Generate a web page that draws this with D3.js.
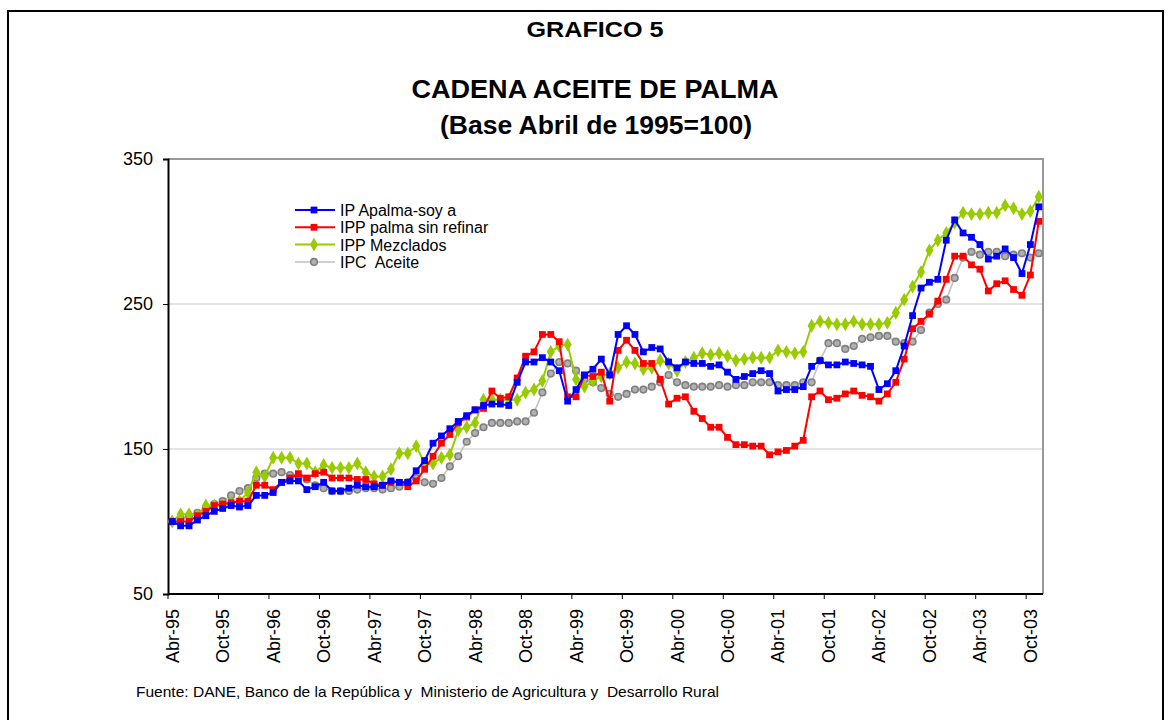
<!DOCTYPE html>
<html>
<head>
<meta charset="utf-8">
<script src="https://cdn.jsdelivr.net/npm/d3@7"></script>
<style>
  body { margin: 0; background: #fff; }
  svg text { font-family: "Liberation Sans", Arial, sans-serif; }
</style>
</head>
<body>
<script>
// meses: Abr-95 .. Nov-03
var mesesNombre = ["Ene", "Feb", "Mar", "Abr", "May", "Jun", "Jul", "Ago", "Sep", "Oct", "Nov", "Dic"];
var meses = [];
for (var k = 0; k < 104; k++) {
  var m = (3 + k) % 12, a = 95 + Math.floor((3 + k) / 12);
  meses.push(mesesNombre[m] + "-" + String(a % 100).padStart(2, "0"));
}

// series (indice Abr-95 = 100)
var ipApalmaSoya = [100, 97, 97, 101, 104, 107, 109, 111, 110, 111, 118, 118, 120, 127, 128, 128, 122, 124, 127, 121,
  121, 123, 125, 124, 124, 125, 128, 127, 127, 135, 142, 154, 159, 164, 169, 173, 177, 180, 181, 181,
  180, 196, 210, 210, 213, 210, 204, 183, 191, 201, 205, 212, 201, 229, 235, 229, 217, 220, 219, 210,
  206, 210, 209, 209, 207, 208, 203, 198, 200, 202, 204, 202, 190, 191, 191, 193, 207, 211, 208, 208,
  210, 209, 208, 207, 191, 195, 204, 221, 242, 261, 265, 267, 294, 308, 299, 296, 291, 281, 283, 288,
  282, 271, 291, 317];
var ippPalmaSinRefinar = [100, 100, 100, 104, 107, 111, 112, 113, 114, 114, 125, 125, 122, 127, 130, 133, 130, 133, 134, 130,
  130, 130, 129, 129, 126, 125, 127, 127, 124, 128, 136, 145, 154, 160, 168, 172, 177, 178, 190, 185,
  186, 199, 214, 217, 229, 229, 224, 186, 186, 201, 200, 203, 183, 218, 225, 218, 209, 209, 198, 181,
  185, 186, 176, 171, 165, 165, 158, 153, 153, 152, 152, 146, 148, 149, 152, 156, 186, 190, 184, 185,
  188, 190, 187, 186, 183, 188, 196, 212, 233, 238, 243, 252, 267, 283, 283, 277, 274, 259, 264, 266,
  260, 256, 270, 307];
var ippMezclados = [100, 105, 105, 104, 111, 111, 111, 113, 114, 120, 134, 131, 144, 144, 144, 140, 140, 134, 139, 137,
  137, 137, 140, 134, 131, 131, 136, 147, 147, 152, 140, 140, 144, 146, 163, 165, 168, 184, 184, 184,
  184, 184, 189, 191, 197, 217, 221, 222, 198, 193, 197, 200, 202, 206, 210, 209, 205, 206, 211, 209,
  204, 210, 213, 216, 215, 216, 214, 211, 212, 213, 213, 213, 218, 217, 216, 217, 235, 238, 237, 236,
  236, 238, 236, 236, 236, 237, 244, 253, 262, 272, 287, 294, 299, 306, 313, 312, 312, 313, 313, 318,
  316, 312, 314, 324];
var ipcAceite = [100, 102, 104, 106, 109, 112, 114, 118, 121, 123, 130, 133, 133, 134, 132, 131, 129, 125, 123, 121,
  121, 121, 122, 123, 123, 122, 123, 124, 127, 130, 127, 126, 130, 138, 145, 155, 161, 165, 168, 168,
  168, 169, 169, 175, 189, 202, 210, 209, 204, 198, 196, 192, 188, 186, 188, 191, 191, 193, 196, 201,
  196, 194, 193, 193, 193, 194, 193, 194, 194, 196, 196, 196, 194, 194, 194, 196, 196, 211, 223, 223,
  219, 221, 226, 227, 228, 228, 224, 223, 224, 232, 244, 250, 253, 268, 282, 286, 284, 286, 286, 283,
  284, 285, 282, 285];

var yTicks = [50, 150, 250, 350];
var gridValores = [150, 250];

var series = [
  { nombre: "IP Apalma-soy a", valores: ipApalmaSoya, color: "#0000ff", marca: "square", ancho: 2 },
  { nombre: "IPP palma sin refinar", valores: ippPalmaSinRefinar, color: "#ff0000", marca: "square", ancho: 2 },
  { nombre: "IPP Mezclados", valores: ippMezclados, color: "#99cc00", marca: "diamond", ancho: 2 },
  { nombre: "IPC  Aceite", valores: ipcAceite, color: "#c0c0c0", marca: "circle", ancho: 1.5 }
];

var width = 1171, height = 720;
var margin = { left: 168, right: 128, top: 159, bottom: 126 };
var innerWidth = width - margin.left - margin.right;
var innerHeight = height - margin.top - margin.bottom;

var svg = d3.select("body").append("svg")
  .attr("width", width)
  .attr("height", height);

// marco exterior (se corta abajo, como en la imagen)
svg.append("path")
  .attr("d", "M8,720V11H1163V720")
  .attr("fill", "none").attr("stroke", "#000").attr("stroke-width", 2);

// titulos
svg.append("text").attr("x", 595).attr("y", 37)
  .attr("text-anchor", "middle").attr("font-size", 22).attr("font-weight", "bold")
  .attr("textLength", 137).attr("lengthAdjust", "spacingAndGlyphs")
  .text("GRAFICO 5");
svg.append("text").attr("x", 595).attr("y", 98)
  .attr("text-anchor", "middle").attr("font-size", 26).attr("font-weight", "bold")
  .attr("textLength", 367).attr("lengthAdjust", "spacingAndGlyphs")
  .text("CADENA ACEITE DE PALMA");
svg.append("text").attr("x", 596).attr("y", 134)
  .attr("text-anchor", "middle").attr("font-size", 26).attr("font-weight", "bold")
  .attr("textLength", 312).attr("lengthAdjust", "spacingAndGlyphs")
  .text("(Base Abril de 1995=100)");

var g = svg.append("g").attr("transform", "translate(" + margin.left + "," + margin.top + ")");

var xScale = d3.scaleBand().domain(meses).range([0, innerWidth]).paddingInner(0).paddingOuter(0);
var yScale = d3.scaleLinear().domain([50, 350]).range([innerHeight, 0]);
var xc = function (i) { return xScale(meses[i]) + xScale.bandwidth() / 2; };

// grid
g.selectAll(".grid").data(gridValores).enter().append("line")
  .attr("x1", 0).attr("x2", innerWidth)
  .attr("y1", function (d) { return yScale(d); })
  .attr("y2", function (d) { return yScale(d); })
  .attr("stroke", "#c8c8c8").attr("stroke-width", 1);

// borde del area
g.append("path")
  .attr("d", "M0,0H" + innerWidth + "V" + innerHeight)
  .attr("fill", "none").attr("stroke", "#999").attr("stroke-width", 2);

// eje y
var yAxis = d3.axisLeft(yScale).tickValues(yTicks).tickSize(5).tickPadding(10);
var yAxisG = g.append("g").call(yAxis);
yAxisG.select(".domain").attr("stroke-width", 2);
yAxisG.selectAll("text").attr("font-size", 18).attr("fill", "#000")
  .style("font-family", "'Liberation Sans', Arial, sans-serif");

// eje x: marcas cada 6 meses en los bordes de categoria
var xAxisG = g.append("g").attr("transform", "translate(0," + innerHeight + ")");
xAxisG.append("line").attr("x1", 0).attr("x2", innerWidth)
  .attr("stroke", "#000").attr("stroke-width", 2);
var idxMarcas = d3.range(0, meses.length + 1, 6);
xAxisG.selectAll(".tk").data(idxMarcas).enter().append("line")
  .attr("x1", function (i) { return i * xScale.bandwidth(); })
  .attr("x2", function (i) { return i * xScale.bandwidth(); })
  .attr("y1", 0).attr("y2", 5)
  .attr("stroke", "#000");
var idxLabels = d3.range(0, meses.length, 6);
xAxisG.selectAll(".lb").data(idxLabels).enter().append("text")
  .attr("transform", function (i) { return "translate(" + (xc(i) + 6.5) + ",15) rotate(-90)"; })
  .attr("text-anchor", "end")
  .attr("font-size", 18)
  .text(function (i) { return meses[i]; });

// lineas
var line = d3.line()
  .x(function (d, i) { return xc(i); })
  .y(function (d) { return yScale(d); });

var sqr = d3.symbol().type(d3.symbolSquare).size(46);
var dia = d3.symbol().type(d3.symbolDiamond).size(56);

function dibujarMarcas(sel, s, x, y) {
  if (s.marca === "square") {
    sel.append("path").attr("d", sqr).attr("transform", "translate(" + x + "," + y + ")")
      .attr("fill", s.color);
  } else if (s.marca === "diamond") {
    sel.append("path").attr("d", dia).attr("transform", "translate(" + x + "," + y + ")")
      .attr("fill", s.color);
  } else {
    sel.append("circle").attr("cx", x).attr("cy", y).attr("r", 3.3)
      .attr("fill", "#b0b0b0").attr("stroke", "#808080").attr("stroke-width", 1.6);
  }
}

// orden de dibujo: gris, verde, rojo, azul (azul encima)
[3, 2, 1, 0].forEach(function (k) {
  var s = series[k];
  var sg = g.append("g");
  sg.append("path").datum(s.valores)
    .attr("d", line).attr("fill", "none")
    .attr("stroke", s.color).attr("stroke-width", s.ancho);
  s.valores.forEach(function (v, i) { dibujarMarcas(sg, s, xc(i), yScale(v)); });
});

// leyenda
var leg = svg.append("g").attr("transform", "translate(295,210)");
series.forEach(function (s, k) {
  var row = leg.append("g").attr("transform", "translate(0," + (k * 17.3) + ")");
  row.append("line").attr("x1", 0).attr("x2", 40).attr("y1", 0).attr("y2", 0)
    .attr("stroke", s.color).attr("stroke-width", s.ancho);
  dibujarMarcas(row, s, 19, 0);
  row.append("text").attr("x", 45).attr("y", 6)
    .attr("font-size", 16)
    .style("white-space", "pre")
    .text(s.nombre);
});

// fuente
svg.append("text").attr("x", 136).attr("y", 697)
  .attr("font-size", 14.5)
  .attr("textLength", 583).attr("lengthAdjust", "spacingAndGlyphs")
  .style("white-space", "pre")
  .text("Fuente: DANE, Banco de la República y  Ministerio de Agricultura y  Desarrollo Rural");
</script>
</body>
</html>
